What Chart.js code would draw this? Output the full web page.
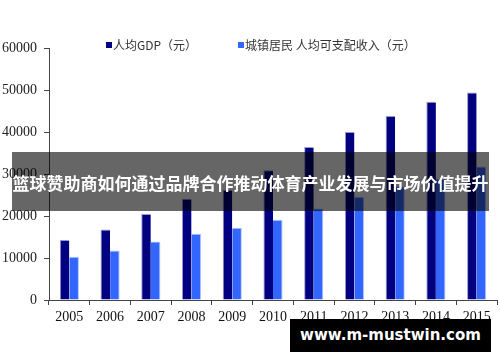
<!DOCTYPE html>
<html><head><meta charset="utf-8">
<script src="https://cdn.jsdelivr.net/npm/chart.js@4"></script>
<style>
html,body{margin:0;padding:0;background:#fff;}
#wrap{position:relative;width:500px;height:362px;overflow:hidden;}
canvas{position:absolute;left:0;top:0;}
#banner{position:absolute;left:12px;top:152px;width:477px;height:59px;background:rgba(0,0,0,0.6);color:#fff;font:bold 17px "Noto Sans CJK SC";line-height:62px;text-align:center;white-space:nowrap;overflow:hidden;}
#wm{position:absolute;left:290px;top:319px;width:201px;height:33px;background:#000;color:#fff;font:bold 15px "DejaVu Sans";line-height:33px;text-align:center;white-space:nowrap;}
</style></head><body>
<div id="wrap"><canvas id="c" width="500" height="362"></canvas>
<div id="banner">篮球赞助商如何通过品牌合作推动体育产业发展与市场价值提升</div>
<div id="wm">www.m-mustwin.com</div></div>
<script>
const years = ['2005','2006','2007','2008','2009','2010','2011','2012','2013','2014','2015'];
const gdpPerCapita = [14300, 16800, 20500, 24100, 26200, 30900, 36400, 40000, 43800, 47200, 49400];
const urbanIncome = [10300, 11800, 13900, 15800, 17200, 19100, 21800, 24600, 27000, 28800, 31800];
const seriesLabels = ['人均GDP（元）', '城镇居民 人均可支配收入（元）'];
const yTicks = [0, 10000, 20000, 30000, 40000, 50000, 60000];

const colors = ['#000080', '#3366ff'];

const legendPlugin = {
  id: 'customLegend',
  afterDraw(chart) {
    const ctx = chart.ctx;
    const items = [{x: 106, ds: 0}, {x: 238, ds: 1}];
    ctx.save();
    ctx.font = '12px "Noto Sans CJK SC"';
    ctx.textBaseline = 'middle';
    items.forEach(it => {
      const ds = chart.data.datasets[it.ds];
      ctx.fillStyle = ds.backgroundColor;
      ctx.fillRect(it.x, 42, 6, 6);
      ctx.fillStyle = '#333';
      ctx.fillText(ds.label, it.x + 7, 45);
    });
    ctx.restore();
  }
};

new Chart(document.getElementById('c'), {
  type: 'bar',
  data: {
    labels: years,
    datasets: [
      {label: seriesLabels[0], data: gdpPerCapita, backgroundColor: colors[0], borderColor: 'rgba(110,110,190,0.7)', borderWidth: {top:1,left:1,right:0,bottom:0}},
      {label: seriesLabels[1], data: urbanIncome, backgroundColor: colors[1], borderColor: 'rgba(140,170,255,0.7)', borderWidth: {top:1,left:0,right:1,bottom:0}}
    ]
  },
  options: {
    responsive: false,
    animation: false,
    devicePixelRatio: 1,
    layout: {padding: {top: 48, right: 3, left: 0, bottom: 0}},
    plugins: {legend: {display: false}, tooltip: {enabled: false}},
    datasets: {bar: {categoryPercentage: 0.47, barPercentage: 1.0}},
    scales: {
      x: {
        grid: {display: true, drawOnChartArea: false, drawTicks: true, tickLength: 5, color: '#444', offset: true},
        border: {display: true, color: '#444', width: 1},
        ticks: {color: '#111', font: {family: '"Liberation Serif"', size: 14}, padding: 4, maxRotation: 0},
        afterFit(s) { s.height = 62; }
      },
      y: {
        min: 0, max: 60000,
        afterBuildTicks(s) { s.ticks = yTicks.map(v => ({value: v})); },
        grid: {display: true, drawOnChartArea: false, drawTicks: true, tickLength: 5, color: '#444'},
        border: {display: true, color: '#444', width: 1},
        ticks: {color: '#222', font: {family: '"Liberation Serif"', size: 14}, padding: 7, callback: v => String(v)},
        afterFit(s) { s.width = 49; }
      }
    }
  },
  plugins: [legendPlugin]
});
</script>
</body></html>
